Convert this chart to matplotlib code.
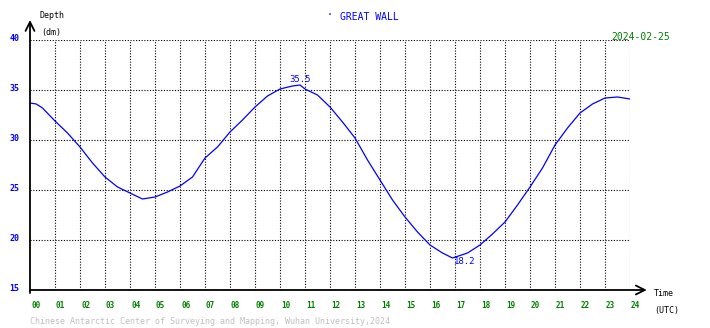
import matplotlib.pyplot as plt

# tide gauge readings, hour (UTC) vs depth in dm
hours = [0, 0.25, 0.5, 1, 1.5, 2, 2.5, 3, 3.5, 4, 4.5, 5, 5.5, 6, 6.5, 7,
         7.5, 8, 8.5, 9, 9.5, 10, 10.5, 10.8, 11, 11.5, 12, 12.5, 13, 13.5,
         14, 14.5, 15, 15.5, 16, 16.5, 16.9, 17.5, 18, 18.5, 19, 19.5, 20,
         20.5, 21, 21.5, 22, 22.5, 23, 23.5, 24]
depth = [33.7, 33.6, 33.2, 31.9, 30.7, 29.3, 27.7, 26.3, 25.3, 24.7, 24.1,
         24.3, 24.8, 25.4, 26.3, 28.2, 29.3, 30.8, 32.0, 33.3, 34.4, 35.1,
         35.4, 35.5, 35.1, 34.5, 33.3, 31.8, 30.2, 28.0, 26.0, 24.0, 22.3,
         20.8, 19.5, 18.7, 18.2, 18.7, 19.5, 20.6, 21.8, 23.5, 25.3, 27.2,
         29.5, 31.2, 32.7, 33.6, 34.2, 34.3, 34.1]
x_ticks = list(range(0, 25))
y_ticks = [15, 20, 25, 30, 35, 40]
station = "GREAT WALL"
date_str = "2024-02-25"
credit = "Chinese Antarctic Center of Surveying and Mapping, Wuhan University,2024"

mono = "DejaVu Sans Mono"
blue = "#0000ff"
green = "#008000"

fig = plt.figure(figsize=(7.1, 3.28), dpi=100)
ax = fig.add_axes([30 / 710, 38 / 328, 600 / 710, 250 / 328])
ax.set_xlim(0, 24)
ax.set_ylim(15, 40)

ax.plot(hours, depth, color=blue, lw=0.9, zorder=3)

# dotted grid
for h in x_ticks[1:]:
    ax.axvline(h, color="black", ls=(0, (1, 1.5)), lw=0.8)
for v in y_ticks[1:]:
    ax.axhline(v, color="black", ls=(0, (1, 1.5)), lw=0.8)

for s in ax.spines.values():
    s.set_visible(False)
ax.set_xticks([])
ax.set_yticks([])

# axes with arrow heads
ax.annotate("", xy=(0, 1.08), xytext=(0, -0.012), xycoords="axes fraction",
            arrowprops=dict(arrowstyle="->", color="black", lw=1.3,
                            shrinkA=0, shrinkB=0, mutation_scale=16))
ax.annotate("", xy=(1.028, 0), xytext=(0, 0), xycoords="axes fraction",
            arrowprops=dict(arrowstyle="->", color="black", lw=1.3,
                            shrinkA=0, shrinkB=0, mutation_scale=16))

for h in x_ticks:
    ax.text(h + 0.04, 13.9, "%02d" % h, color=green, family=mono,
            fontsize=5.5, fontweight="bold", ha="left", va="top")
for v in y_ticks:
    ax.text(-0.42, v + 0.15, str(v), color=blue, family=mono, fontsize=6,
            fontweight="bold", ha="right", va="center")

# max / min labels
ax.text(10.8, 35.6, "35.5", color=blue, family=mono, fontsize=6.5,
        ha="center", va="bottom")
ax.text(17.4, 17.9, "18.2", color=blue, family=mono, fontsize=6.5,
        ha="center", va="center")

fig.text(40 / 710, 1 - 15 / 328, "Depth", family=mono, fontsize=6, va="center")
fig.text(41 / 710, 1 - 33 / 328, "(dm)", family=mono, fontsize=6, va="center")
fig.text(654 / 710, 1 - 294 / 328, "Time", family=mono, fontsize=6, va="center")
fig.text(654 / 710, 1 - 310 / 328, "(UTC)", family=mono, fontsize=6, va="center")
fig.text(330 / 710, 1 - 15 / 328, "·", color=blue, family=mono, fontsize=7,
         ha="center", va="center")
fig.text(369 / 710, 1 - 17 / 328, station, color=blue, family=mono,
         fontsize=7, ha="center", va="center")
fig.text(641 / 710, 1 - 37 / 328, date_str, color=green, family=mono,
         fontsize=7, ha="center", va="center")
fig.text(30 / 710, 1 - 321 / 328, credit, color="#c0c0c0", family=mono,
         fontsize=6, va="center")

fig.savefig("out.png", dpi=100)
